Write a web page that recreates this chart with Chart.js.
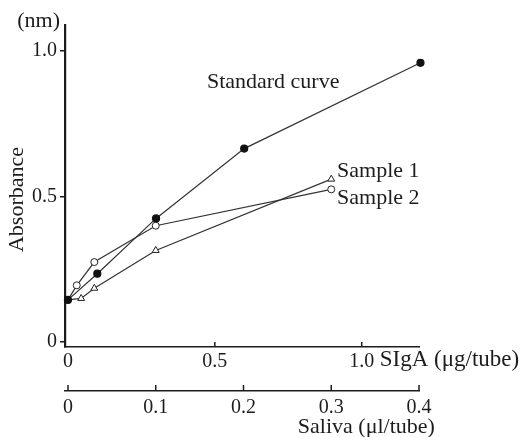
<!DOCTYPE html>
<html>
<head>
<meta charset="utf-8">
<script src="https://cdn.jsdelivr.net/npm/chart.js@4/dist/chart.umd.min.js"></script>
<style>
  html, body { margin: 0; padding: 0; background: #fff; }
  #wrap { width: 519px; height: 437px; }
</style>
</head>
<body>
<div id="wrap"><canvas id="chart" width="519" height="437"></canvas></div>
<script>
// SIgA (ug/tube) for the standard curve
const stdX = [0, 0.1, 0.3, 0.6, 1.2];
const stdY = [0.145, 0.235, 0.425, 0.665, 0.96];
// saliva (ul/tube) for the samples
const s1X = [0, 0.015, 0.03, 0.1, 0.3];
const s1Y = [0.145, 0.15, 0.185, 0.315, 0.56];
const s2X = [0, 0.01, 0.03, 0.1, 0.3];
const s2Y = [0.145, 0.195, 0.275, 0.40, 0.525];

const yTicks = [0, 0.5, 1.0];
const sigaTicks = [0, 0.5, 1.0];
const salivaTicks = [0, 0.1, 0.2, 0.3, 0.4];

const ink = '#1c1c1c';
const serif = 'Liberation Serif';

function pts(xs, ys) {
    return xs.map((x, i) => ({x: x, y: ys[i]}));
}

// text labels sitting on the plot, given in data units
const notes = [
    {text: 'Standard curve', axis: 'x', x: 0.473, y: 0.893},
    {text: 'Sample 1', axis: 'x2', x: 0.3066, y: 0.586},
    {text: 'Sample 2', axis: 'x2', x: 0.3066, y: 0.493}
];

const extras = {
    id: 'extras',
    afterDraw(chart) {
        const ctx = chart.ctx;
        const xs = chart.scales.x, x2 = chart.scales.x2, ys = chart.scales.y;
        ctx.save();
        ctx.strokeStyle = ink;
        ctx.lineWidth = 1.5;
        // upward tick marks on both horizontal axes
        for (let v of sigaTicks) {
            if (v === 0) continue;
            const px = xs.getPixelForValue(v);
            ctx.beginPath(); ctx.moveTo(px, xs.top); ctx.lineTo(px, xs.top - 5); ctx.stroke();
        }
        for (let v of salivaTicks) {
            const px = x2.getPixelForValue(v);
            ctx.beginPath(); ctx.moveTo(px, x2.top); ctx.lineTo(px, x2.top - 6); ctx.stroke();
        }
        ctx.fillStyle = ink;
        ctx.font = '22px "' + serif + '"';
        ctx.textBaseline = 'middle';
        ctx.textAlign = 'left';
        for (let n of notes) {
            const sx = chart.scales[n.axis];
            ctx.fillText(n.text, sx.getPixelForValue(n.x), ys.getPixelForValue(n.y));
        }
        ctx.font = '23px "' + serif + '"';
        ctx.fillText('SIgA (\u03bcg/tube)', xs.getPixelForValue(1.0) + 18, xs.top + 13);
        ctx.textAlign = 'center';
        ctx.font = '22px "' + serif + '"';
        ctx.fillText('Saliva (\u03bcl/tube)', x2.getPixelForValue(0.34), x2.bottom - 10);
        ctx.textAlign = 'right';
        ctx.fillText('(nm)', chart.chartArea.left - 5, chart.chartArea.top - 4);
        ctx.translate(ys.left + 17, ys.getPixelForValue(0.49));
        ctx.rotate(-Math.PI / 2);
        ctx.textAlign = 'center';
        ctx.fillText('Absorbance', 0, 0);
        ctx.restore();
    }
};

new Chart(document.getElementById('chart'), {
    type: 'line',
    data: {
        datasets: [
            {
                label: 'Standard curve',
                data: pts(stdX, stdY),
                xAxisID: 'x',
                borderColor: '#333',
                borderWidth: 1.2,
                pointStyle: 'circle',
                pointRadius: 3.5,
                pointBackgroundColor: '#111',
                pointBorderColor: '#111',
                tension: 0
            },
            {
                label: 'Sample 1',
                data: pts(s1X, s1Y),
                xAxisID: 'x2',
                borderColor: '#333',
                borderWidth: 1.2,
                pointStyle: 'triangle',
                pointRadius: [0, 4, 4, 4, 4],
                pointBackgroundColor: '#fff',
                pointBorderColor: '#222',
                pointBorderWidth: 1,
                tension: 0
            },
            {
                label: 'Sample 2',
                data: pts(s2X, s2Y),
                xAxisID: 'x2',
                borderColor: '#333',
                borderWidth: 1.2,
                pointStyle: 'circle',
                pointRadius: [0, 3.5, 3.5, 3.5, 3.5],
                pointBackgroundColor: '#fff',
                pointBorderColor: '#222',
                pointBorderWidth: 1,
                tension: 0
            }
        ]
    },
    options: {
        responsive: false,
        animation: false,
        clip: false,
        layout: {padding: {top: 25, right: 100, left: 0, bottom: 0}},
        plugins: {legend: {display: false}, tooltip: {enabled: false}},
        scales: {
            x: {
                type: 'linear',
                position: 'bottom',
                min: -0.01,
                max: 1.195,
                afterFit: s => { s.height = 44; },
                afterBuildTicks: s => { s.ticks = sigaTicks.map(v => ({value: v})); },
                grid: {display: false},
                border: {display: true, color: ink, width: 1.5},
                ticks: {
                    color: ink,
                    padding: -5,
                    maxRotation: 0,
                    font: {family: serif, size: 20},
                    callback: v => v === 0 ? '0' : v.toFixed(1)
                }
            },
            x2: {
                type: 'linear',
                position: 'bottom',
                min: -0.0034,
                max: 0.4,
                afterFit: s => { s.height = 46; },
                afterBuildTicks: s => { s.ticks = salivaTicks.map(v => ({value: v})); },
                grid: {display: false},
                border: {display: true, color: ink, width: 1.5},
                ticks: {
                    color: ink,
                    padding: -3,
                    maxRotation: 0,
                    font: {family: serif, size: 20},
                    callback: v => v === 0 ? '0' : v.toFixed(1)
                }
            },
            y: {
                type: 'linear',
                min: -0.017,
                max: 1.09,
                afterFit: s => { s.width = 65; },
                afterBuildTicks: s => { s.ticks = yTicks.map(v => ({value: v})); },
                grid: {display: true, drawOnChartArea: false, drawTicks: true, tickLength: 5, color: ink, lineWidth: 1.5},
                border: {display: true, color: ink, width: 2.2},
                ticks: {
                    color: ink,
                    padding: 3,
                    font: {family: serif, size: 20},
                    callback: v => v === 0 ? '0' : v.toFixed(1)
                }
            }
        }
    },
    plugins: [extras]
});
</script>
</body>
</html>
